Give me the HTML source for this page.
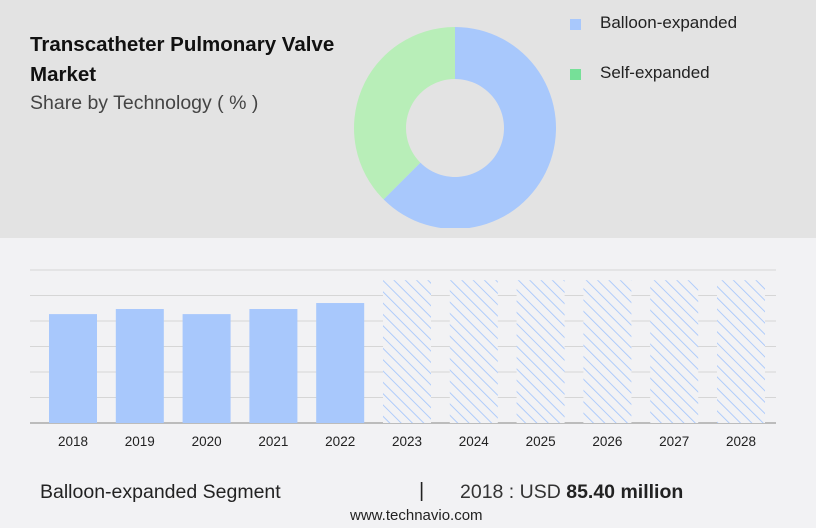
<!DOCTYPE html>
<html><head><meta charset="utf-8"><style>
body{margin:0;width:816px;height:528px;background:#f2f2f4;font-family:"Liberation Sans",sans-serif;overflow:hidden;position:relative}
.top{position:absolute;left:0;top:0;width:816px;height:238px;background:#e3e3e3}
.t{position:absolute;left:30px;top:30px;font-weight:bold;font-size:20.5px;line-height:30px;color:#111}
.s{position:absolute;left:30px;top:92px;font-size:19.5px;color:#444}
.leg{position:absolute;font-size:17px;color:#222}
.sw{position:absolute;width:11px;height:11px}
</style></head><body>
<div class="top"></div>
<div class="t">Transcatheter Pulmonary Valve<br>Market</div>
<div class="s">Share by Technology ( % )</div>
<div class="sw" style="left:570px;top:19px;background:#a8c8fc"></div>
<div class="leg" style="left:600px;top:13px">Balloon-expanded</div>
<div class="sw" style="left:570px;top:69px;background:#76e098"></div>
<div class="leg" style="left:600px;top:63px">Self-expanded</div>
<svg id="svg" width="816" height="528" style="position:absolute;left:0;top:0">
<defs><pattern id="h" width="8" height="8" patternUnits="userSpaceOnUse" patternTransform="rotate(-45)"><rect width="8" height="8" fill="#f2f2f4"/><line x1="0" y1="0" x2="0" y2="8" stroke="#a8c8fc" stroke-width="1.8"/></pattern>
<clipPath id="dc"><rect x="300" y="0" width="300" height="228"/></clipPath></defs>
<g id="donut" clip-path="url(#dc)"></g>
<g id="grid"></g><g id="bars"></g><g id="labels"></g>
</svg>
<div style="position:absolute;left:40px;top:481px;font-size:19.5px;color:#222">Balloon-expanded Segment</div>
<div style="position:absolute;left:419px;top:480px;font-size:20px;color:#222">|</div>
<div style="position:absolute;left:460px;top:481px;font-size:19.5px;color:#333">2018 : USD <b style="color:#222">85.40 million</b></div>
<div style="position:absolute;left:350px;top:507px;font-size:15px;color:#222">www.technavio.com</div>
<script>
const shareLabels=["Balloon-expanded","Self-expanded"];
const shareValues=[62.5,37.5];
const shareColors=["#a8c8fc","#b8eeb8"];
const years=["2018","2019","2020","2021","2022","2023","2024","2025","2026","2027","2028"];
const values=[85.4,89.4,85.4,89.4,94.1,112,112,112,112,112,112];
const forecast=[false,false,false,false,false,true,true,true,true,true,true];
const ticks=[0,20,40,60,80,100,120];
const NS="http://www.w3.org/2000/svg";
function mk(t,a,p){const e=document.createElementNS(NS,t);for(const k in a)e.setAttribute(k,a[k]);p.appendChild(e);return e;}
const cx=455,cy=128,R=101,r=49;let a0=0;const tot=shareValues.reduce((a,b)=>a+b,0);
const dg=document.getElementById('donut');
shareValues.forEach((v,i)=>{const a1=a0+v/tot*2*Math.PI;
const p=(rad,ang)=>[cx+rad*Math.sin(ang),cy-rad*Math.cos(ang)];
const [x1,y1]=p(R,a0),[x2,y2]=p(R,a1),[x3,y3]=p(r,a1),[x4,y4]=p(r,a0);const lg=(a1-a0)>Math.PI?1:0;
const e=mk('path',{d:`M${x1},${y1}A${R},${R} 0 ${lg} 1 ${x2},${y2}L${x3},${y3}A${r},${r} 0 ${lg} 0 ${x4},${y4}Z`,fill:shareColors[i]},dg);


a0=a1;});
const baseY=423,topY=270,vmax=120;const yS=v=>baseY-(v/vmax)*(baseY-topY);
const xS=i=>73+i*66.8;
const gg=document.getElementById('grid');
ticks.forEach(t=>{const l=mk('line',{x1:30,x2:776,y1:yS(t),y2:yS(t),stroke:t===0?'#aaa':'#d6d6d6','stroke-width':t===0?1.5:1},gg);

});
const bg=document.getElementById('bars'),lgp=document.getElementById('labels');
values.forEach((v,i)=>{const b=mk('rect',{x:xS(i)-24,y:yS(v),width:48,height:baseY-yS(v),fill:forecast[i]?'url(#h)':'#a8c8fc'},bg);


const t=mk('text',{x:xS(i),y:446,'text-anchor':'middle','font-size':13.5,fill:'#222','font-family':'Liberation Sans'},lgp);t.textContent=years[i];

});
</script>
</body></html>
